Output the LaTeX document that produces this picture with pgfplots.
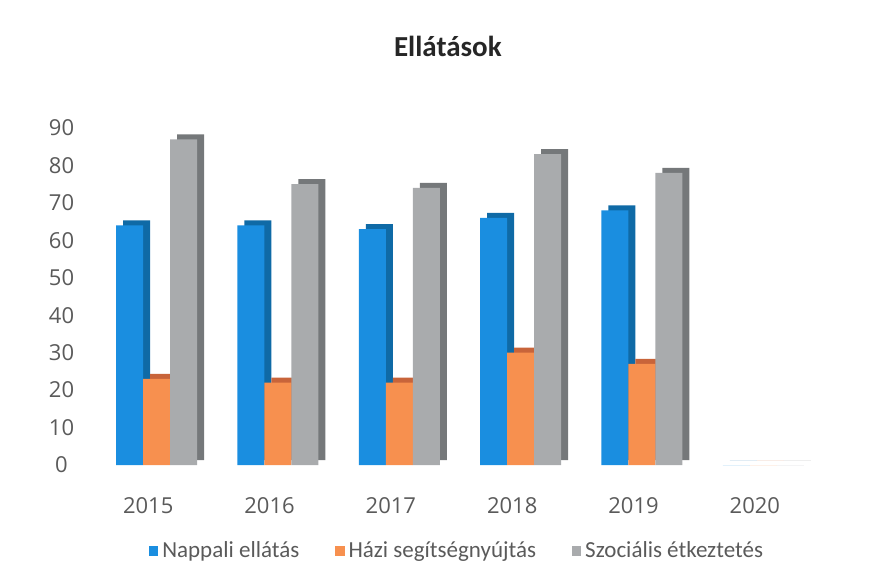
\documentclass[border=0pt]{standalone}
\usepackage{pgfplots}
\pgfplotsset{compat=1.18}
\usepackage{fontspec}
\setmainfont{Carlito}
\newfontfamily\tickfont{Open Sans}
\definecolor{cblue}{HTML}{1A8EE0}
\definecolor{cblueS}{HTML}{0F6AA6}
\definecolor{corange}{HTML}{F7904F}
\definecolor{corangeS}{HTML}{C8643A}
\definecolor{cgray}{HTML}{A9ABAD}
\definecolor{cgrayS}{HTML}{75787A}
\definecolor{ctick}{HTML}{5A5A5A}
\begin{document}
\begin{tikzpicture}
\begin{axis}[
  at={(43.75pt,57.5pt)}, anchor=south west,
  scale only axis, width=364pt, height=168.5pt,
  xmin=-0.5, xmax=5.5, ymin=0, ymax=90,
  ytick={0,10,...,90},
  xtick={0,1,2,3,4,5},
  xticklabels={2015,2016,2017,2018,2019,2020},
  axis line style={draw=none}, tick style={draw=none},
  /pgf/number format/assume math mode=true,
  tick label style={font=\tickfont\fontsize{11}{13}\selectfont, text=ctick},
  yticklabel style={anchor=center, xshift=-13pt},
  xticklabel style={anchor=base, yshift=-20pt},
  ybar, bar width=13.5pt,
  title={Ellátások},
  title style={at={(0.495,1.208)}, anchor=center, text=black!85, font=\bfseries\fontsize{14.5}{17}\selectfont},
  legend columns=3,
  legend style={at={(0.509,-0.255)}, anchor=center, draw=none, fill=none,
    font=\fontsize{11.5}{13}\selectfont, text=ctick,
    /tikz/every even column/.append style={column sep=16pt}},
  legend image code/.code={\fill[#1] (0pt,-2.3pt) rectangle (4.6pt,2.3pt);},
]
\addplot[fill=cblueS, draw=none, bar shift=-9.25pt, xshift=3.5pt, yshift=2.5pt, forget plot]
  coordinates {(0,64) (1,64) (2,63) (3,66) (4,68) (5,0)};
\addplot[fill=cblue, draw=none, bar shift=-9.25pt]
  coordinates {(0,64) (1,64) (2,63) (3,66) (4,68) (5,0)};
\addlegendentry{Nappali ellátás}
\addplot[fill=corangeS, draw=none, bar shift=4.25pt, xshift=3.5pt, yshift=2.5pt, forget plot]
  coordinates {(0,23) (1,22) (2,22) (3,30) (4,27) (5,0)};
\addplot[fill=corange, draw=none, bar shift=4.25pt]
  coordinates {(0,23) (1,22) (2,22) (3,30) (4,27) (5,0)};
\addlegendentry{Házi segítségnyújtás}
\addplot[fill=cgrayS, draw=none, bar shift=17.75pt, xshift=3.5pt, yshift=2.5pt, forget plot]
  coordinates {(0,87) (1,75) (2,74) (3,83) (4,78) (5,0)};
\addplot[fill=cgray, draw=none, bar shift=17.75pt]
  coordinates {(0,87) (1,75) (2,74) (3,83) (4,78) (5,0)};
\addlegendentry{Szociális étkeztetés}
\end{axis}
\pgfresetboundingbox
\path[use as bounding box] (0,0) rectangle (437.5pt,290pt);
\end{tikzpicture}
\end{document}
